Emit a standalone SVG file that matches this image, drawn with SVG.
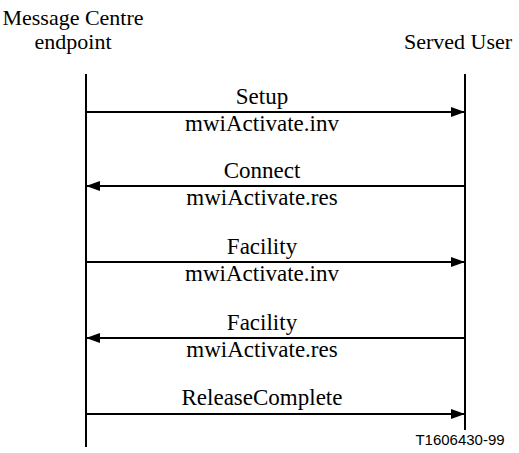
<svg xmlns="http://www.w3.org/2000/svg" width="519" height="453" viewBox="0 0 519 453">
<defs>
<marker id="ah" markerWidth="14" markerHeight="12" refX="14" refY="6" orient="auto" markerUnits="userSpaceOnUse">
<path d="M0,1 L14,6 L0,11 Z" fill="#000"/>
</marker>
</defs>
<style>
.t{font-family:"Liberation Serif","Times New Roman",serif;font-size:22px;fill:#000;text-anchor:middle}
.l{font-family:"Liberation Serif","Times New Roman",serif;font-size:23px;fill:#000;text-anchor:middle}
.s{font-family:"Liberation Sans",Arial,sans-serif;font-size:15px;fill:#000;text-anchor:middle}
.ll{stroke:#000;stroke-width:2;fill:none}
.m{stroke:#000;stroke-width:2;fill:none;marker-end:url(#ah)}
</style>
<rect width="519" height="453" fill="#fff"/>
<g id="mc">
<text class="t" x="73" y="25">Message Centre</text>
<text class="t" x="73" y="49">endpoint</text>
<line class="ll" x1="86" y1="74" x2="86" y2="447"/>
</g>
<g id="su">
<text class="t" x="458" y="49">Served User</text>
<line class="ll" x1="465" y1="74" x2="465" y2="430"/>
</g>
<g id="connectors">
<line class="m" x1="86" y1="112" x2="465" y2="112"/>
<text class="l" x="262" y="104">Setup</text>
<text class="l" x="262" y="131">mwiActivate.inv</text>
<line class="m" x1="465" y1="186" x2="86" y2="186"/>
<text class="l" x="262" y="178">Connect</text>
<text class="l" x="262" y="205">mwiActivate.res</text>
<line class="m" x1="86" y1="262" x2="465" y2="262"/>
<text class="l" x="262" y="254">Facility</text>
<text class="l" x="262" y="281">mwiActivate.inv</text>
<line class="m" x1="465" y1="338" x2="86" y2="338"/>
<text class="l" x="262" y="330">Facility</text>
<text class="l" x="262" y="357">mwiActivate.res</text>
<line class="m" x1="86" y1="414" x2="465" y2="414"/>
<text class="l" x="262" y="405">ReleaseComplete</text>
</g>
<text class="s" x="460" y="445">T1606430-99</text>
</svg>
